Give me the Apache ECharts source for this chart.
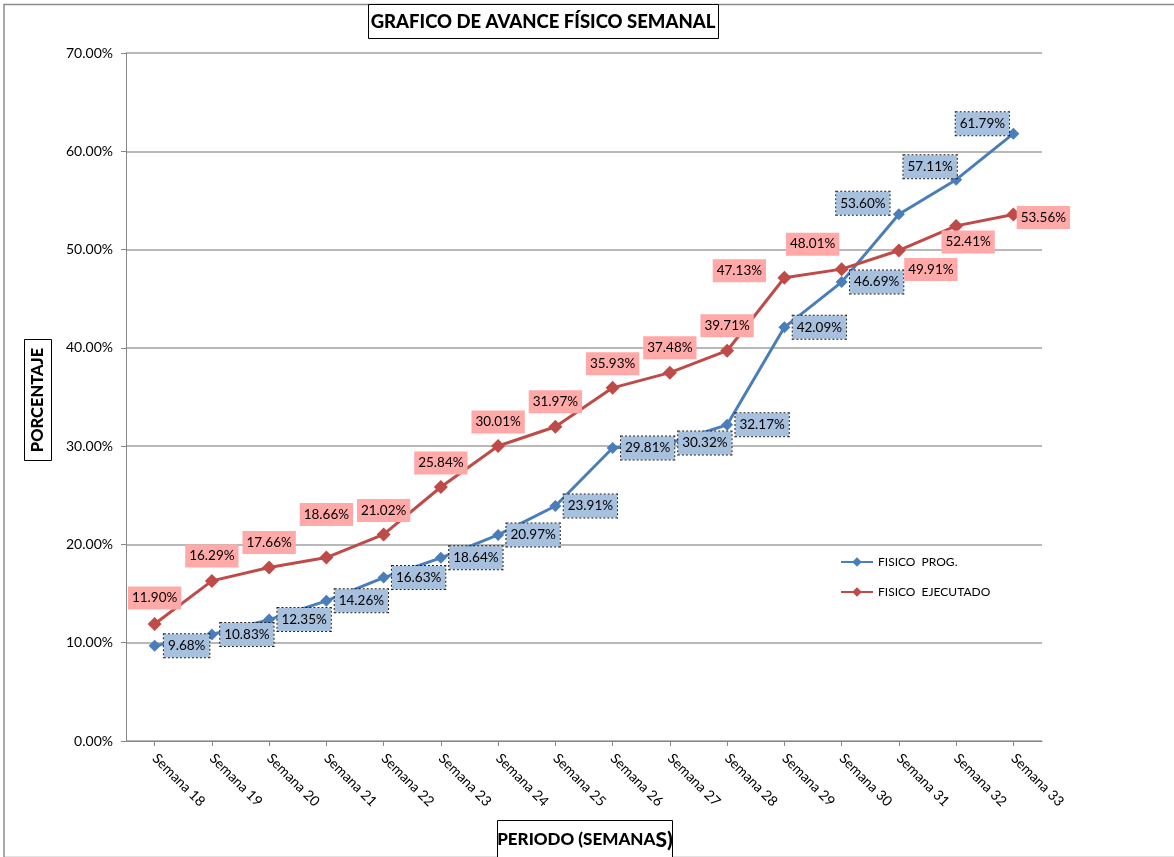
<!DOCTYPE html>
<html>
<head>
<meta charset="utf-8">
<script src="https://cdn.jsdelivr.net/npm/echarts@6/dist/echarts.min.js"></script>
<style>
html,body{margin:0;padding:0;background:#fff;}
#chart{width:1174px;height:857px;}
</style>
</head>
<body>
<div id="chart"></div>
<script>
// ---- DATA ----
const categories = ['Semana 18','Semana 19','Semana 20','Semana 21','Semana 22','Semana 23','Semana 24','Semana 25','Semana 26','Semana 27','Semana 28','Semana 29','Semana 30','Semana 31','Semana 32','Semana 33'];
const fisicoProg = [9.68,10.83,12.35,14.26,16.63,18.64,20.97,23.91,29.81,30.32,32.17,42.09,46.69,53.60,57.11,61.79];
const fisicoEjec = [11.90,16.29,17.66,18.66,21.02,25.84,30.01,31.97,35.93,37.48,39.71,47.13,48.01,49.91,52.41,53.56];
const seriesNames = ['FISICO  PROG.','FISICO  EJECUTADO'];
const yTickValues = [0,10,20,30,40,50,60,70];

// ---- label placement (style) ----
const progLabelOffset = [[32,0],[35,0],[35,0],[35,0],[35,0],[35,0],[35,0],[35,0],[35,0],[35,0],[35,0],[35,0],[35,0],[-36,-11],[-26,-13],[-31,-10]];
const ejecLabelOffset = [[0,-26],[0,-25],[0,-25],[0,-43],[0,-24],[0,-24],[0,-24],[0,-25],[0,-24],[0,-25],[0,-25],[-45,-7],[-29,-25],[32,19],[12,16],[30,3]];

const FONT = 'Lato, "Open Sans", sans-serif';
const BLUE = '#4a7ebb';
const RED = '#be4b48';

const chart = echarts.init(document.getElementById('chart'), null, {renderer:'canvas'});

const labelBase = {
  show: true,
  position: 'inside',
  fontFamily: FONT,
  fontSize: 13.5,
  color: '#000',
  formatter: p => p.value.toFixed(2) + '%'
};

const option = {
  backgroundColor: '#fff',
  animation: false,
  grid: {left: 126, right: 132, top: 53, bottom: 116, containLabel: false},
  xAxis: {
    type: 'category',
    data: categories,
    boundaryGap: true,
    axisLine: {show: true, lineStyle: {color: '#868686', width: 1}},
    axisTick: {show: true, alignWithLabel: true, length: 5, lineStyle: {color: '#868686'}},
    axisLabel: {rotate: -45, margin: 15, fontFamily: FONT, fontSize: 14, color: '#000', interval: 0},
    splitLine: {show: false}
  },
  yAxis: {
    type: 'value',
    min: yTickValues[0],
    max: yTickValues[yTickValues.length - 1],
    interval: 10,
    axisLine: {show: true, lineStyle: {color: '#868686', width: 1}},
    axisTick: {show: true, length: 5, lineStyle: {color: '#868686'}},
    axisLabel: {fontFamily: FONT, fontSize: 14, color: '#000', margin: 13, formatter: v => v.toFixed(2) + '%'},
    splitLine: {show: true, lineStyle: {color: '#a0a0a0', width: 1.5}}
  },
  legend: {
    orient: 'vertical',
    left: 840,
    top: 556,
    padding: 0,
    itemWidth: 32,
    itemHeight: 12,
    itemGap: 18,
    textStyle: {fontFamily: FONT, fontSize: 12, color: '#000'},
    data: seriesNames
  },
  series: [
    {
      name: seriesNames[0],
      type: 'line',
      data: fisicoProg.map((v, i) => ({value: v, label: {offset: progLabelOffset[i]}})),
      symbol: 'diamond',
      symbolSize: 12,
      lineStyle: {color: BLUE, width: 3},
      itemStyle: {color: BLUE},
      label: Object.assign({}, labelBase, {
        backgroundColor: '#a7c0de',
        borderColor: '#222',
        borderWidth: 1,
        borderType: 'dotted',
        padding: [5, 4, 4, 4]
      }),
      z: 2
    },
    {
      name: seriesNames[1],
      type: 'line',
      data: fisicoEjec.map((v, i) => ({value: v, label: {offset: ejecLabelOffset[i]}})),
      symbol: 'diamond',
      symbolSize: 14,
      lineStyle: {color: RED, width: 3},
      itemStyle: {color: RED},
      label: Object.assign({}, labelBase, {
        backgroundColor: '#ffa9a9',
        padding: [5, 4, 4, 4]
      }),
      z: 3
    }
  ],
  graphic: [
    {type: 'rect', left: 1.5, top: 2, shape: {x: 0, y: 0, width: 1180, height: 853}, style: {fill: 'none', stroke: '#8c8c8c', lineWidth: 1.5}, silent: true, z: -10},
    {type: 'rect', shape: {x: 368.5, y: 4.5, width: 350, height: 34}, style: {fill: '#fff', stroke: '#000', lineWidth: 1}, z: 10},
    {type: 'text', x: 543, y: 22, style: {text: 'GRAFICO DE AVANCE FÍSICO SEMANAL', fontFamily: FONT, fontWeight: 900, fontSize: 18.5, fill: '#000', textAlign: 'center', textVerticalAlign: 'middle'}, z: 11},
    {type: 'rect', shape: {x: 24.5, y: 339.5, width: 27, height: 121}, style: {fill: '#fff', stroke: '#000', lineWidth: 1}, z: 10},
    {type: 'text', x: 38, y: 400, rotation: Math.PI / 2, style: {text: 'PORCENTAJE', fontFamily: FONT, fontWeight: 900, fontSize: 16.5, fill: '#000', textAlign: 'center', textVerticalAlign: 'middle'}, z: 11},
    {type: 'rect', shape: {x: 497.5, y: 820.5, width: 175, height: 45}, style: {fill: '#fff', stroke: '#000', lineWidth: 1}, z: 10},
    {type: 'text', x: 585, y: 840, style: {
      text: '{a|PERIODO (SEMANA}{b|S)}',
      rich: {
        a: {fontFamily: FONT, fontWeight: 900, fontSize: 17, fill: '#000', color: '#000'},
        b: {fontFamily: FONT, fontWeight: 900, fontSize: 21, fill: '#000', color: '#000'}
      },
      textAlign: 'center', textVerticalAlign: 'middle'}, z: 11}
  ]
};
chart.setOption(option);
</script>
</body>
</html>
